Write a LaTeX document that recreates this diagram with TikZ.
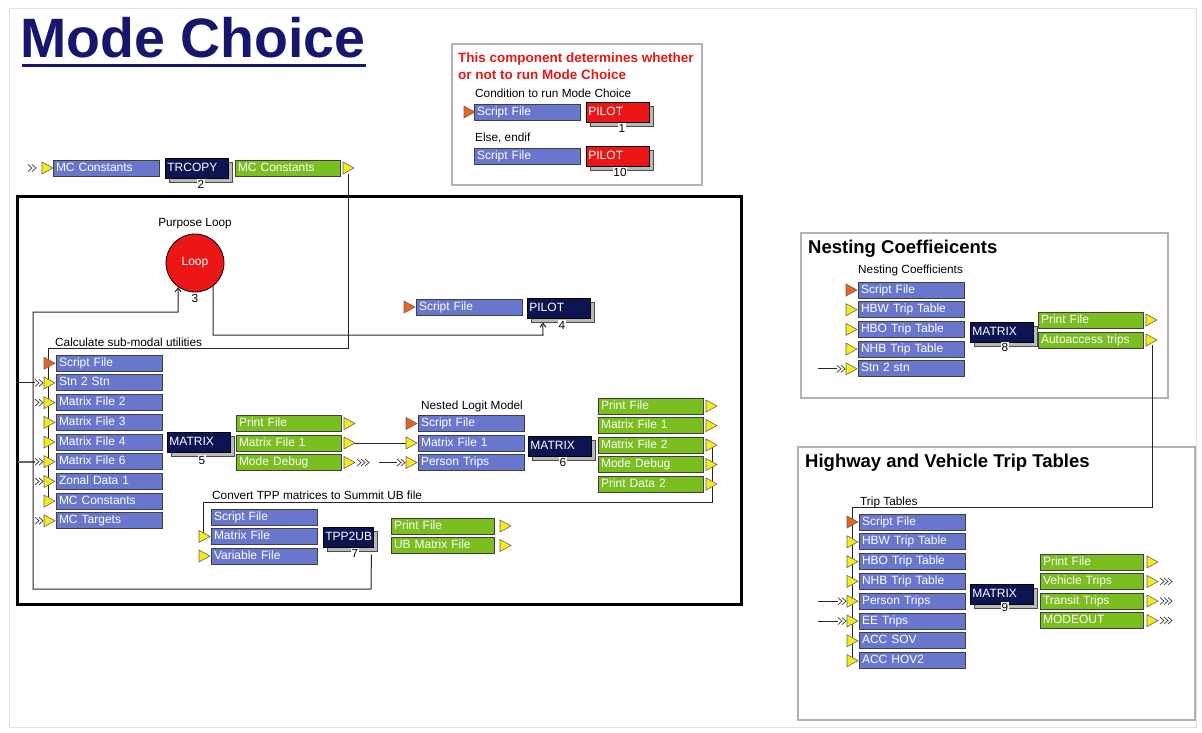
\documentclass[tikz,border=0pt]{standalone}
\usepackage{fontspec}
\setmainfont{Liberation Sans}
\usetikzlibrary{shadows,arrows.meta}
\definecolor{boxblue}{RGB}{104,118,206}
\definecolor{boxgreen}{RGB}{122,190,32}
\definecolor{fnnavy}{RGB}{12,20,82}
\definecolor{pilotred}{RGB}{236,22,22}
\definecolor{tyellow}{RGB}{246,236,24}
\definecolor{torange}{RGB}{234,98,30}
\definecolor{titlenavy}{RGB}{22,22,108}
\definecolor{notered}{RGB}{228,24,24}
\newcommand\bxf{\fontsize{12}{13}\selectfont}
\newcommand\lbf{\fontsize{11.8}{13}\selectfont}
\newcommand\sectf{\fontsize{18.5}{21}\selectfont\bfseries}
\pgfdeclarelayer{base}
\pgfdeclarelayer{bg}
\pgfsetlayers{base,bg,main}
\tikzset{
  ib/.style={draw=black!75, line width=1pt, fill=boxblue, text=white, anchor=west,
    minimum height=16pt, inner xsep=2.5pt, inner ysep=0pt, text width=101pt,
    text height=8pt, text depth=2pt, align=left, font=\bxf},
  ob/.style={ib, fill=boxgreen, text width=100pt},
  fn/.style={draw=black, line width=0.8pt, fill=fnnavy, text=white, font=\bxf, anchor=west,
    minimum height=20pt, inner xsep=2pt, inner ysep=0pt, text width=59pt, align=left,
    text height=8.5pt, text depth=2.5pt,
    copy shadow={shadow xshift=4pt, shadow yshift=-4pt, fill=gray!55, draw=black!70}},
  tfn/.style={fn, text width=46pt},
  pr/.style={fn, fill=pilotred},
  lbl/.style={font=\lbf, anchor=west, inner sep=0pt},
  num/.style={font=\lbf, fill=white, inner sep=0.6pt},
  conn/.style={draw=black!85, line width=1pt},
  grp/.style={draw=black!30, line width=1.2pt},
  barb/.style={-{Straight Barb[length=4pt,width=6pt]}},
  ytri/.pic={\filldraw[fill=tyellow, draw=black!60, line width=0.6pt] (0,-6) -- (11,0) -- (0,6) -- cycle;},
  otri/.pic={\filldraw[fill=torange, draw=black!60, line width=0.6pt] (0,-6) -- (11,0) -- (0,6) -- cycle;},
  chev/.pic={\draw[black!70, line width=0.8pt] (0,-3.5) -- (4,0) -- (0,3.5) (4,-3.5) -- (8,0) -- (4,3.5);},
  chevc/.pic={\draw[black!70, line width=0.8pt] (0,-3.5) -- (4,0) -- (0,3.5) (4,-3.5) -- (8,0) -- (4,3.5) (8,-3.5) -- (12,0) -- (8,3.5);}
}
\begin{document}
\begin{tikzpicture}[x=1pt,y=-1pt]
\useasboundingbox (0,0) rectangle (1202,732);
\begin{pgfonlayer}{base}
\fill[white] (0,0) rectangle (1202,732);
\draw[black!12, line width=1pt] (9,8) rectangle (1196,727);
% group frames
\draw[grp] (452,44) rectangle (702,185);
\draw[line width=3pt] (17,196) rectangle (741,604);
\draw[grp] (801,233) rectangle (1168,398);
\draw[grp] (798,447) rectangle (1195,720);
\end{pgfonlayer}

% title
\node[anchor=base west, inner sep=0pt, text=titlenavy, font=\fontsize{55.5}{60}\selectfont\bfseries] (title) at (20,57) {Mode Choice};
\draw[titlenavy, line width=3pt] (22,65) -- (366,65);

% note box
\node[anchor=west, inner sep=0pt, align=left, text=notered, font=\fontsize{13.5}{17}\selectfont\bfseries] (note) at (458,66) {This component determines whether\\or not to run Mode Choice};
\node[lbl] (cond) at (475,93) {Condition to run Mode Choice};
\coordinate (nt1) at (464,112); \pic at (nt1) {otri};
\node[ib] (ns1) at (474,112) {Script File};
\node[pr] (np1) at (586,112.5) {PILOT};
\node[num] (nn1) at (622,128) {1};
\node[lbl] (else) at (475,138) {Else, endif};
\node[ib] (ns2) at (474,156) {Script File};
\node[pr] (np2) at (586,156) {PILOT};
\node[num] (nn2) at (620,172) {10};

% top row TRCOPY
\pic at (28,168) {chev};
\coordinate (t2i) at (42,168); \pic at (t2i) {ytri};
\node[ib] (tin) at (53,168) {MC Constants};
\node[fn] (trc) at (165,168.5) {TRCOPY};
\node[num] (n2) at (201,184) {2};
\node[ob] (tout) at (235,168) {MC Constants};
\coordinate (t2o) at (343,168); \pic at (t2o) {ytri};

% loop
\node[lbl, anchor=center] (pl) at (195,224) {Purpose Loop};
\node[circle, draw=black, line width=0.8pt, fill=pilotred, minimum size=58pt, inner sep=0pt, text=white, font=\bxf] (loop) at (195,263) {Loop};
\node[num] (n3) at (195,298) {3};

% PILOT 4
\coordinate (p4t) at (404,307); \pic at (p4t) {otri};
\node[ib] (p4s) at (416,307) {Script File};
\node[fn] (p4) at (527,308) {PILOT};
\node[num] (n4) at (562,325) {4};

% MATRIX 5
\node[lbl] (csm) at (55,342) {Calculate sub-modal utilities};
\foreach \t [count=\i] in {Script File,Stn 2 Stn,Matrix File 2,Matrix File 3,Matrix File 4,Matrix File 6,Zonal Data 1,MC Constants,MC Targets}{
  \node[ib] (m5i\i) at (56,{343.5+19.7*\i}) {\t};
  \coordinate (m5t\i) at (44,{343.5+19.7*\i});
}
\pic at (m5t1) {otri};
\foreach \i in {2,...,9} {\pic at (m5t\i) {ytri};}
\foreach \i in {2,3,6,7,9} {\pic at ([xshift=-9pt]m5t\i) {chev};}
\node[fn] (m5) at (167,442) {MATRIX};
\node[num] (n5) at (202,460) {5};
\foreach \t [count=\i] in {Print File,Matrix File 1,Mode Debug}{
  \node[ob] (m5o\i) at (236,{404+19.5*\i}) {\t};
  \coordinate (m5u\i) at (344,{404+19.5*\i});
  \pic at (m5u\i) {ytri};
}
\pic at ([xshift=13pt]m5u3) {chevc};

% MATRIX 6
\node[lbl, anchor=center] (nlm) at (472,406) {Nested Logit Model};
\foreach \t [count=\i] in {Script File,Matrix File 1,Person Trips}{
  \node[ib] (m6i\i) at (418,{404+19.5*\i}) {\t};
  \coordinate (m6t\i) at (406,{404+19.5*\i});
}
\pic at (m6t1) {otri};
\pic at (m6t2) {ytri};
\pic at (m6t3) {ytri};
\pic at ([xshift=-9pt]m6t3) {chev};
\node[fn] (m6) at (528,446) {MATRIX};
\node[num] (n6) at (563,462) {6};
\foreach \t [count=\i] in {Print File,Matrix File 1,Matrix File 2,Mode Debug,Print Data 2}{
  \node[ob] (m6o\i) at (598,{386.5+19.5*\i}) {\t};
  \coordinate (m6u\i) at (706,{386.5+19.5*\i});
  \pic at (m6u\i) {ytri};
}

% TPP2UB 7
\node[lbl] (ctpp) at (212,495) {Convert TPP matrices to Summit UB file};
\foreach \t [count=\i] in {Script File,Matrix File,Variable File}{
  \node[ib] (m7i\i) at (211,{497.5+19.5*\i}) {\t};
  \coordinate (m7t\i) at (199,{497.5+19.5*\i});
}
\pic at (m7t2) {ytri};
\pic at (m7t3) {ytri};
\node[tfn] (tpp) at (323,537) {TPP2UB};
\node[num] (n7) at (355,553) {7};
\foreach \t [count=\i] in {Print File,UB Matrix File}{
  \node[ob, text width=98pt] (m7o\i) at (391,{506.5+19.5*\i}) {\t};
  \coordinate (m7u\i) at (500,{506.5+19.5*\i});
  \pic at (m7u\i) {ytri};
}

% Nesting coefficients
\node[anchor=west, inner sep=0pt, font=\sectf] (nct) at (808,249) {Nesting Coeffieicents};
\node[lbl] (ncs) at (858,270) {Nesting Coefficients};
\foreach \t [count=\i] in {Script File,HBW Trip Table,HBO Trip Table,NHB Trip Table,Stn 2 stn}{
  \node[ib] (m8i\i) at (858,{270.3+19.7*\i}) {\t};
  \coordinate (m8t\i) at (846,{270.3+19.7*\i});
}
\pic at (m8t1) {otri};
\foreach \i in {2,...,5} {\pic at (m8t\i) {ytri};}
\pic at ([xshift=-9pt]m8t5) {chev};
\node[fn] (m8) at (970,332) {MATRIX};
\node[num] (n8) at (1005,347) {8};
\foreach \t [count=\i] in {Print File,Autoaccess trips}{
  \node[ob] (m8o\i) at (1038,{300+20*\i}) {\t};
  \coordinate (m8u\i) at (1146,{300+20*\i});
  \pic at (m8u\i) {ytri};
}

% Highway and vehicle trip tables
\node[anchor=west, inner sep=0pt, font=\sectf] (hvt) at (805,463) {Highway and Vehicle Trip Tables};
\node[lbl] (tts) at (860,502) {Trip Tables};
\foreach \t [count=\i] in {Script File,HBW Trip Table,HBO Trip Table,NHB Trip Table,Person Trips,EE Trips,ACC SOV,ACC HOV2}{
  \node[ib] (m9i\i) at (859,{502.2+19.8*\i}) {\t};
  \coordinate (m9t\i) at (847,{502.2+19.8*\i});
}
\pic at (m9t1) {otri};
\foreach \i in {2,...,8} {\pic at (m9t\i) {ytri};}
\pic at ([xshift=-9pt]m9t5) {chev};
\pic at ([xshift=-9pt]m9t6) {chev};
\node[fn] (m9) at (970,594) {MATRIX};
\node[num] (n9) at (1005,607) {9};
\foreach \t [count=\i] in {Print File,Vehicle Trips,Transit Trips,MODEOUT}{
  \node[ob, text width=98pt] (m9o\i) at (1040,{542.5+19.5*\i}) {\t};
  \coordinate (m9u\i) at (1147,{542.5+19.5*\i});
  \pic at (m9u\i) {ytri};
}
\foreach \i in {2,3,4} {\pic at ([xshift=13pt]m9u\i) {chevc};}

% connectors
\begin{pgfonlayer}{bg}
  % TRCOPY output -> MC Constants input of MATRIX 5
  \draw[conn] ([xshift=5pt,yshift=-6pt]t2o) -- (348,348) -- (48,348) -- ([xshift=4pt]m5t8);
  % inputs from outside the group
  \draw[conn] (18,{343.5+19.7*2}) -- ([xshift=-9pt]m5t2);
  \draw[conn, line width=1.6pt, black!60] (18,{343.5+19.7*6}) -- ([xshift=-9pt]m5t6);
  % TPP2UB -> Loop
  \draw[conn, barb] ([xshift=23pt,yshift=-7pt]tpp.south) -- (371,589) -- (33,589) -- (33,312) -- (178,312) -- (loop.-125);
  % Loop -> PILOT 4
  \draw[conn, barb] (loop.-52) |- (543,335) -- ([xshift=-16pt,yshift=-4pt]p4.south);
  % MATRIX 5 Matrix File 1 -> MATRIX 6 Matrix File 1
  \draw[conn] ([xshift=6pt]m5u2) -- (m6t2);
  % Person Trips input
  \draw[conn] ([xshift=-27pt]m6t3) -- ([xshift=-9pt]m6t3);
  % MATRIX 6 Matrix File 2 -> TPP2UB Matrix File
  \draw[conn] ([xshift=6pt]m6u3) -- (712,502) -| ([xshift=4pt]m7t2);
  % Stn 2 stn input
  \draw[conn] ([xshift=-28pt]m8t5) -- ([xshift=-9pt]m8t5);
  % Autoaccess trips -> ACC inputs
  \draw[conn] ([xshift=6pt,yshift=-5pt]m8u2) -- (1152,507) -| ([xshift=5pt]m9t8);
  % Person Trips / EE Trips inputs
  \draw[conn] ([xshift=-29pt]m9t5) -- ([xshift=-9pt]m9t5);
  \draw[conn] ([xshift=-29pt]m9t6) -- ([xshift=-9pt]m9t6);
\end{pgfonlayer}
\end{tikzpicture}
\end{document}
